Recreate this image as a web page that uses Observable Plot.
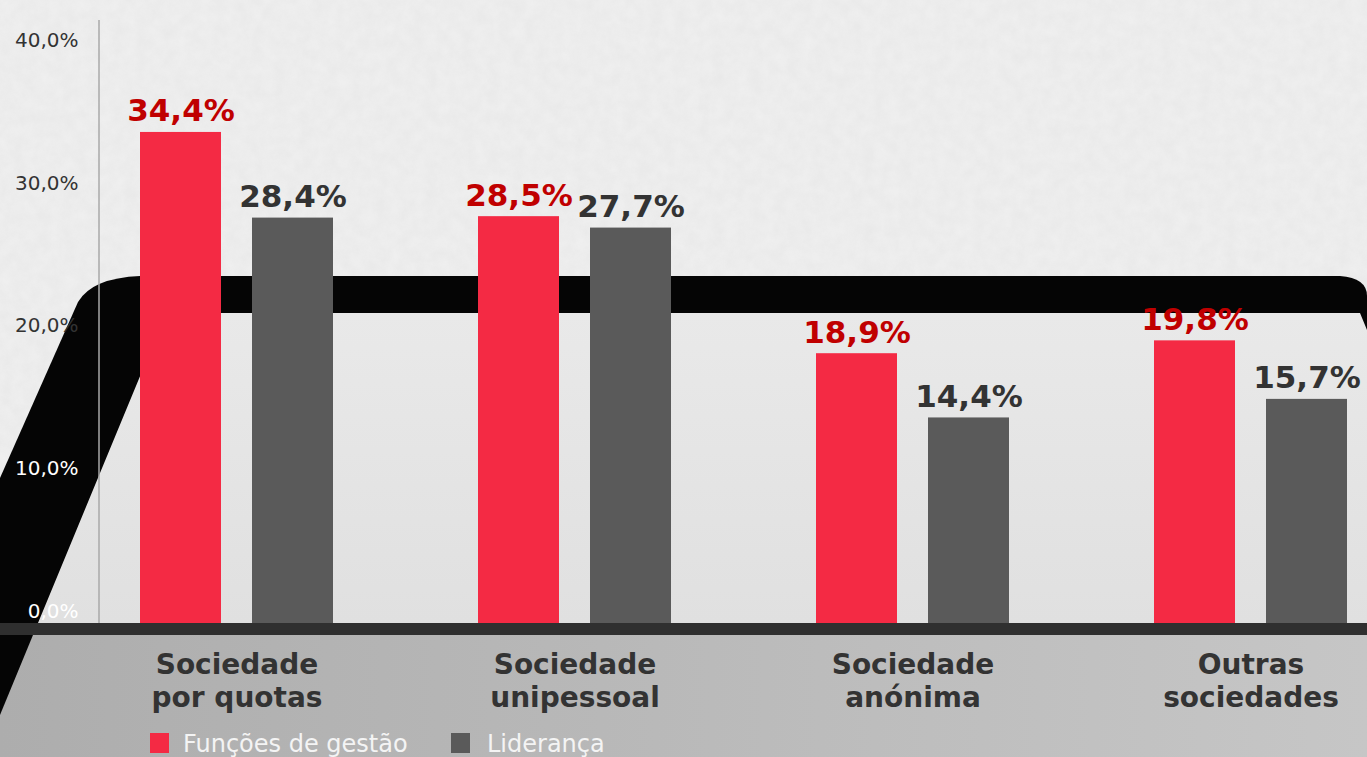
<!DOCTYPE html>
<html>
<head>
<meta charset="utf-8">
<script src="https://cdn.jsdelivr.net/npm/d3@7"></script>
<script src="https://cdn.jsdelivr.net/npm/@observablehq/plot@0.6"></script>
<style>
  html, body { margin: 0; padding: 0; background: #eeeeee; overflow: hidden; }
  #wrap { position: relative; width: 1367px; height: 757px; font-family: "DejaVu Sans", sans-serif; }
  #bg { position: absolute; left: 0; top: 0; }
  #chart { position: absolute; left: 0; top: 0; }
  #legend { position: absolute; left: 0; top: 731px; width: 1367px; height: 26px; }
  .sw { position: absolute; top: 2px; width: 19px; height: 20px; }
  .lt { position: absolute; top: -1px; font-size: 24px; color: #f4f4f4; white-space: nowrap; }
  g[aria-label="fx-axis tick label"] text { font-weight: bold; }
</style>
</head>
<body>
<div id="wrap">
  <svg id="bg" width="1367" height="757" viewBox="0 0 1367 757">
    <defs>
      <filter id="paper" x="0" y="0" width="100%" height="100%">
        <feTurbulence type="fractalNoise" baseFrequency="0.08" numOctaves="3" seed="4"/>
        <feColorMatrix type="matrix" values="0 0 0 0 0.55  0 0 0 0 0.55  0 0 0 0 0.55  0 0 0 0.35 -0.05"/>
      </filter>
      <linearGradient id="inner" x1="0" y1="0" x2="0" y2="1">
        <stop offset="0" stop-color="#e9e9e9"/>
        <stop offset="1" stop-color="#e0e0e0"/>
      </linearGradient>
      <linearGradient id="lower" x1="0" y1="0" x2="1" y2="0">
        <stop offset="0" stop-color="#adadad"/>
        <stop offset="1" stop-color="#c6c6c6"/>
      </linearGradient>
    </defs>
    <rect x="0" y="0" width="1367" height="757" fill="#efefef"/>
    <rect x="0" y="0" width="1367" height="757" filter="url(#paper)" opacity="0.5"/>
    <path d="M0,478 L78,302 Q92,278 140,276 L1340,276 Q1367,278 1367,296 L1367,757 L0,757 Z" fill="#050505"/>
    <path d="M38,623 L155,340 Q164,313 190,313 L1360,313 L1367,330 L1367,623 Z" fill="url(#inner)"/>
    <path d="M33,635 L1367,635 L1367,757 L0,757 L0,715 Z" fill="url(#lower)"/>
    <rect x="0" y="623" width="1367" height="12" fill="#2f2f2f"/>
    <line x1="99" y1="20" x2="99" y2="623" stroke="#a8a8a8" stroke-width="1.5"/>
  </svg>
  <div id="chart"></div>
  <div id="legend"></div>
</div>
<script>
const categories = ["Sociedade por quotas", "Sociedade unipessoal", "Sociedade anónima", "Outras sociedades"];
const categoryLabels = ["Sociedade\npor quotas", "Sociedade\nunipessoal", "Sociedade\nanónima", "Outras\nsociedades"];
const series = ["Funções de gestão", "Liderança"];
const gestao = [34.4, 28.5, 18.9, 19.8];
const lideranca = [28.4, 27.7, 14.4, 15.7];
const yTicksDark = [20, 30, 40];
const yTicksLight = [0, 10];
const barColors = ["#f42a44", "#5a5a5a"];
const labelColors = ["#c00000", "#333333"];

const data = categories.flatMap((c, i) => [
  {category: c, series: series[0], value: gestao[i]},
  {category: c, series: series[1], value: lideranca[i]}
]);
const fmt = d => d.toFixed(1).replace(".", ",") + "%";
const catLabel = d => categoryLabels[categories.indexOf(d)];

const chart = Plot.plot({
  width: 1367,
  height: 732,
  marginTop: 52,
  marginBottom: 109,
  marginLeft: 140,
  marginRight: 20,
  style: {background: "transparent", fontFamily: "DejaVu Sans, sans-serif", overflow: "visible"},
  fx: {domain: categories, paddingInner: 0.43, paddingOuter: 0, label: null},
  x: {domain: series, paddingInner: 0.28, paddingOuter: 0, axis: null},
  y: {domain: [0, 40]},
  color: {domain: series, range: barColors},
  marks: [
    Plot.axisY({ticks: yTicksDark, tickSize: 0, tickPadding: 62, tickFormat: fmt, fontSize: 20, color: "#333", dy: -12, label: null}),
    Plot.axisY({ticks: yTicksLight, tickSize: 0, tickPadding: 62, tickFormat: fmt, fontSize: 20, color: "#ffffff", dy: -12, label: null}),
    Plot.barY(data, {fx: "category", x: "series", y: "value", fill: "series"}),
    Plot.text(data.filter(d => d.series === series[0]), {fx: "category", x: "series", y: "value", text: d => fmt(d.value), dy: -11, lineAnchor: "bottom", fontSize: 31, fontWeight: "bold", fill: labelColors[0]}),
    Plot.text(data.filter(d => d.series === series[1]), {fx: "category", x: "series", y: "value", text: d => fmt(d.value), dy: -11, lineAnchor: "bottom", fontSize: 31, fontWeight: "bold", fill: labelColors[1]}),
    Plot.axisFx({anchor: "bottom", tickSize: 0, tickPadding: 28, tickFormat: catLabel, fontSize: 28, fontWeight: "bold", lineHeight: 1.15, color: "#333", label: null})
  ]
});
document.getElementById("chart").appendChild(chart);

const legend = document.getElementById("legend");
const legendPos = [[150, 183], [451, 487]];
series.forEach((s, i) => {
  const sw = document.createElement("div");
  sw.className = "sw";
  sw.style.left = legendPos[i][0] + "px";
  sw.style.background = barColors[i];
  legend.appendChild(sw);
  const t = document.createElement("div");
  t.className = "lt";
  t.style.left = legendPos[i][1] + "px";
  t.textContent = s;
  legend.appendChild(t);
});
</script>
</body>
</html>
